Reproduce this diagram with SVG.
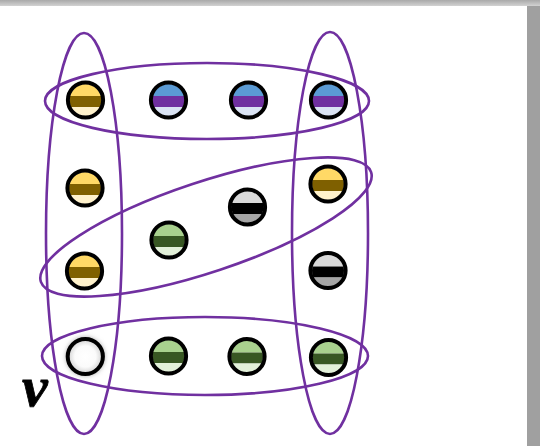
<svg xmlns="http://www.w3.org/2000/svg" xmlns:xlink="http://www.w3.org/1999/xlink" width="540" height="446" viewBox="0 0 540 446">
<style>
.grp{fill:none;stroke:#7030A0;stroke-width:2.6}
.ring{fill:none;stroke:#000;stroke-width:4}
.lbl{font-family:"Liberation Serif","DejaVu Serif",serif;font-style:italic;font-weight:bold;font-size:58px;fill:#000;stroke:#000;stroke-width:0.8}
</style>
<defs>
<linearGradient id="topbar" x1="0" y1="0" x2="0" y2="1">
<stop offset="0" stop-color="#a9a9a9"/><stop offset="1" stop-color="#d2d2d2"/>
</linearGradient>
<radialGradient id="emptyfill" cx="0.5" cy="0.5" r="0.5">
<stop offset="0" stop-color="#ffffff"/><stop offset="0.6" stop-color="#fbfbfb"/><stop offset="1" stop-color="#d0d0d0"/>
</radialGradient>
<filter id="blur" x="-50%" y="-50%" width="200%" height="200%"><feGaussianBlur stdDeviation="2.5"/></filter>
<clipPath id="cc"><circle cx="0" cy="0" r="16"/></clipPath>
<g id="t-yellow">
<g clip-path="url(#cc)"><rect x="-18" y="-18" width="36" height="14" fill="#FFD966"/><rect x="-18" y="-4" width="36" height="11" fill="#7F6000"/><rect x="-18" y="7" width="36" height="11" fill="#FFF2CC"/></g>
<circle class="ring" r="17.6"/>
</g>
<g id="t-blue">
<g clip-path="url(#cc)"><rect x="-18" y="-18" width="36" height="14" fill="#5B9BD5"/><rect x="-18" y="-4" width="36" height="11" fill="#7030A0"/><rect x="-18" y="7" width="36" height="11" fill="#DAE3F3"/></g>
<circle class="ring" r="17.6"/>
</g>
<g id="t-green">
<g clip-path="url(#cc)"><rect x="-18" y="-18" width="36" height="14" fill="#A9D18E"/><rect x="-18" y="-4" width="36" height="11" fill="#385723"/><rect x="-18" y="7" width="36" height="11" fill="#E2F0D9"/></g>
<circle class="ring" r="17.6"/>
</g>
<g id="t-gray">
<g clip-path="url(#cc)"><rect x="-18" y="-18" width="36" height="14" fill="#D9D9D9"/><rect x="-18" y="-4" width="36" height="11" fill="#000000"/><rect x="-18" y="7" width="36" height="11" fill="#A6A6A6"/></g>
<circle class="ring" r="17.6"/>
</g>
</defs>
<rect x="0" y="0" width="540" height="446" fill="#ffffff"/>
<rect x="527" y="0" width="13" height="446" fill="#a0a0a0"/>
<rect x="0" y="0" width="540" height="6" fill="url(#topbar)"/>

<g id="connectors">
<ellipse class="grp" cx="84" cy="233.5" rx="38" ry="200.5"/>
<ellipse class="grp" cx="330" cy="233" rx="38" ry="201"/>
<ellipse class="grp" cx="207" cy="101" rx="162" ry="38"/>
<ellipse class="grp" cx="205" cy="356" rx="163" ry="39"/>
<ellipse class="grp" cx="206" cy="227" rx="174" ry="45" transform="rotate(-18.4 206 227)"/>
</g>

<g id="n1"><use xlink:href="#t-yellow" transform="translate(85.5,100)"/></g>
<g id="n2"><use xlink:href="#t-blue" transform="translate(168.5,100)"/></g>
<g id="n3"><use xlink:href="#t-blue" transform="translate(248.5,100)"/></g>
<g id="n4"><use xlink:href="#t-blue" transform="translate(328.5,100)"/></g>
<g id="n5"><use xlink:href="#t-yellow" transform="translate(85,188)"/></g>
<g id="n6"><use xlink:href="#t-yellow" transform="translate(84.5,271)"/></g>
<g id="n7"><use xlink:href="#t-green" transform="translate(169,240)"/></g>
<g id="n8"><use xlink:href="#t-gray" transform="translate(247.5,207)"/></g>
<g id="n9"><use xlink:href="#t-yellow" transform="translate(328,184)"/></g>
<g id="n10"><use xlink:href="#t-gray" transform="translate(328,270.5)"/></g>
<g id="n11">
<circle cx="85.3" cy="356.5" r="19" fill="#9a9a9a" filter="url(#blur)"/>
<circle cx="85.3" cy="356.5" r="17.6" fill="url(#emptyfill)" stroke="#000" stroke-width="4"/>
</g>
<g id="n12"><use xlink:href="#t-green" transform="translate(168.5,356)"/></g>
<g id="n13"><use xlink:href="#t-green" transform="translate(247,356.5)"/></g>
<g id="n14"><use xlink:href="#t-green" transform="translate(328.5,357.5)"/></g>

<text class="lbl" x="22" y="406">v</text>
</svg>
